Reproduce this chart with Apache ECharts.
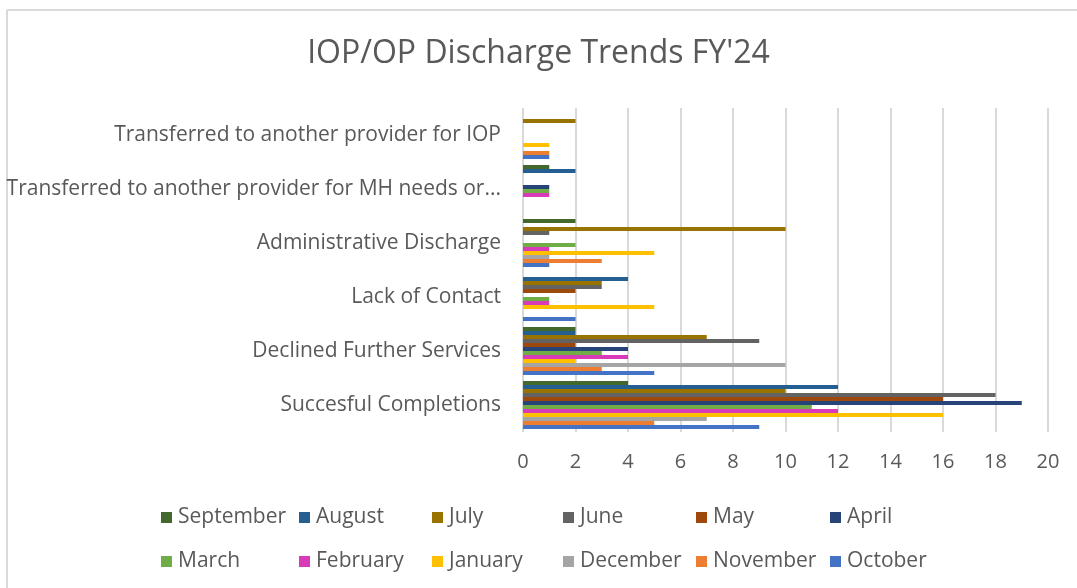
<!DOCTYPE html>
<html>
<head>
<meta charset="utf-8">
<script src="https://cdn.jsdelivr.net/npm/echarts@6/dist/echarts.min.js"></script>
<style>
html,body{margin:0;padding:0;background:#fff;}
#chart{width:1077px;height:588px;}
</style>
</head>
<body>
<div id="chart"></div>
<script>
const categories = ['Succesful Completions','Declined Further Services','Lack of Contact','Administrative Discharge','Transferred to another provider for MH needs or...','Transferred to another provider for IOP'];
const xTicks = [0,2,4,6,8,10,12,14,16,18,20];
const october   = [9, 5, 2, 1, 0, 1];
const november  = [5, 3, 0, 3, 0, 1];
const december  = [7, 10, 0, 1, 0, 0];
const january   = [16, 2, 5, 5, 0, 1];
const february  = [12, 4, 1, 1, 1, 0];
const march     = [11, 3, 1, 2, 1, 0];
const april     = [19, 4, 0, 0, 1, 0];
const may       = [16, 2, 2, 0, 0, 0];
const june      = [18, 9, 3, 1, 0, 0];
const july      = [10, 7, 3, 10, 0, 2];
const august    = [12, 2, 4, 0, 2, 0];
const september = [4, 2, 0, 2, 1, 0];

// drawn top-to-bottom within each group
const seriesNames = ['September','August','July','June','May','April','March','February','January','December','November','October'];
const seriesData = [september,august,july,june,may,april,march,february,january,december,november,october];
const colors = ['#43682B','#255E91','#997300','#636363','#9E480E','#264478','#70AD47','#D93BB8','#FFC000','#A5A5A5','#ED7D31','#4472C4'];

const legendRows = [
  ['September','August','July','June','May','April'],
  ['March','February','January','December','November','October']
];
const legendCols = [156, 294, 427, 558, 691, 825];
const legendTops = [502, 546];

const FONT = 'Open Sans';
const TXT = '#595959';

const legends = [];
legendRows.forEach((row, r) => {
  row.forEach((name, c) => {
    legends.push({
      data: [name],
      left: legendCols[c],
      top: legendTops[r],
      itemWidth: 11,
      itemHeight: 11,
      itemGap: 0,
      icon: 'rect',
      selectedMode: false,
      textStyle: {fontFamily: FONT, fontSize: 21, color: TXT, padding: [0,0,0,1]}
    });
  });
});

const chart = echarts.init(document.getElementById('chart'), null, {renderer: 'canvas'});
chart.setOption({
  animation: false,
  color: colors,
  title: {
    text: "IOP/OP Discharge Trends FY'24",
    left: 'center',
    top: 33,
    textStyle: {fontFamily: FONT, fontSize: 32, fontWeight: 'normal', color: TXT}
  },
  legend: legends,
  grid: {left: 523, right: 29, top: 108, bottom: 156, containLabel: false},
  xAxis: {
    type: 'value',
    min: xTicks[0],
    max: xTicks[xTicks.length-1],
    interval: 2,
    axisLine: {show: false},
    axisTick: {show: false},
    splitLine: {show: true, lineStyle: {color: '#d9d9d9', width: 2}},
    axisLabel: {fontFamily: FONT, fontSize: 20, color: TXT, margin: 20}
  },
  yAxis: {
    type: 'category',
    data: categories,
    axisLine: {show: false},
    axisTick: {show: false},
    splitLine: {show: false},
    axisLabel: {fontFamily: FONT, fontSize: 21, color: TXT, margin: 22}
  },
  series: seriesNames.map((n, i) => ({
    name: n,
    type: 'bar',
    data: seriesData[i],
    barGap: '0%',
    barCategoryGap: '11%'
  })),
  graphic: [
    {type: 'line', shape: {x1: 7, y1: 10, x2: 1077, y2: 10}, style: {stroke: '#d9d9d9', lineWidth: 2}},
    {type: 'line', shape: {x1: 7, y1: 10, x2: 7, y2: 588}, style: {stroke: '#d9d9d9', lineWidth: 2}}
  ]
});
</script>
</body>
</html>
